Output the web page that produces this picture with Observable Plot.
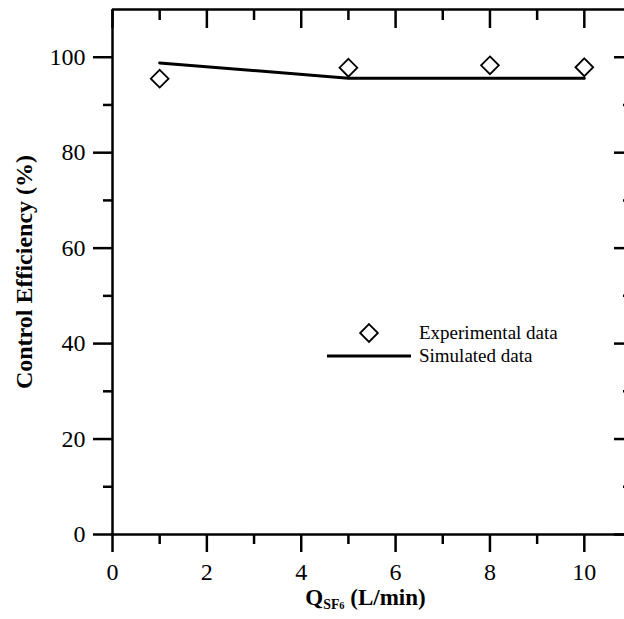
<!DOCTYPE html>
<html>
<head>
<meta charset="utf-8">
<script src="https://cdn.jsdelivr.net/npm/d3@7"></script>
<script src="https://cdn.jsdelivr.net/npm/@observablehq/plot@0.6"></script>
<style>
  html, body { margin: 0; padding: 0; background: #fff; overflow: hidden; }
  #wrap { position: relative; width: 624px; height: 619px; overflow: hidden; }
  #wrap svg text { font-family: "Liberation Serif", "Times New Roman", serif; font-variant: normal; }
  #xlabel { position: absolute; left: 106px; width: 519px; top: 586px; text-align: center;
    font: bold 23px "Liberation Serif", "Times New Roman", serif; line-height: 1; white-space: nowrap; }
  #xlabel sub { font-size: 0.6em; vertical-align: -0.28em; line-height: 0; }
  #xlabel sub sub { font-size: 0.75em; vertical-align: 0; }
  .leg { position: absolute; font: 19px "Liberation Serif", "Times New Roman", serif; line-height: 1; white-space: nowrap; }
</style>
</head>
<body>
<div id="wrap"></div>
<script>
// Data
const flowRates = [1, 5, 8, 10];                  // Q_SF6 (L/min)
const experimental = [95.5, 97.8, 98.3, 97.9];    // Control efficiency (%)
const simulated = [98.8, 95.6, 95.6, 95.6];       // Control efficiency (%)
const xMajorTicks = [0, 2, 4, 6, 8, 10];
const xMinorTicks = [1, 3, 5, 7, 9];
const yMajorTicks = [0, 20, 40, 60, 80, 100];
const yMinorTicks = [10, 30, 50, 70, 90];
const yLabel = "Control Efficiency (%)";
const legendLabels = ["Experimental data", "Simulated data"];

const expData = flowRates.map((x, i) => ({x, y: experimental[i]}));
const simData = flowRates.map((x, i) => ({x, y: simulated[i]}));

const font = '"Liberation Serif", "Times New Roman", serif';
const sw = 2.5;
const dotR = 8;

const chart = Plot.plot({
  width: 631,
  height: 619,
  marginLeft: 112,
  marginRight: 0,
  marginTop: 9,
  marginBottom: 85,
  style: {maxWidth: "none", fontFamily: font, fontSize: "24px", color: "#000", background: "#fff", overflow: "visible"},
  x: {domain: [0, 11]},
  y: {domain: [0, 110]},
  marks: [
    // frame lines
    Plot.ruleY([0, 110], {stroke: "#000", strokeWidth: sw}),
    Plot.ruleX([0, 11], {stroke: "#000", strokeWidth: sw}),
    // bottom axis
    Plot.axisX({anchor: "bottom", ticks: xMajorTicks, tickSize: 18, tickPadding: 10, tickFormat: d => String(d), strokeWidth: sw, label: null, fontSize: 24, fontFamily: font, fontVariant: "normal"}),
    Plot.axisX({anchor: "bottom", ticks: xMinorTicks, tickSize: 10, text: null, strokeWidth: sw, label: null}),
    // top axis (inward ticks)
    Plot.axisX({anchor: "top", ticks: xMajorTicks, tickSize: -18, text: null, strokeWidth: sw, label: null}),
    Plot.axisX({anchor: "top", ticks: xMinorTicks, tickSize: -10, text: null, strokeWidth: sw, label: null}),
    // left axis
    Plot.axisY({anchor: "left", ticks: yMajorTicks, tickSize: 19, tickPadding: 8, tickFormat: d => String(d), strokeWidth: sw, label: null, fontSize: 24, fontFamily: font, fontVariant: "normal"}),
    Plot.axisY({anchor: "left", ticks: yMinorTicks, tickSize: 9, text: null, strokeWidth: sw, label: null}),
    // right axis (inward ticks)
    Plot.axisY({anchor: "right", ticks: yMajorTicks, tickSize: -18, text: null, strokeWidth: sw, label: null}),
    Plot.axisY({anchor: "right", ticks: yMinorTicks, tickSize: -9, text: null, strokeWidth: sw, label: null}),
    // y label
    Plot.text([yLabel], {frameAnchor: "left", dx: -88, rotate: -90, textAnchor: "middle", lineAnchor: "middle", text: d => d, fontWeight: "bold", fontSize: 24, fontFamily: font, fill: "#000"}),
    // simulated line
    Plot.line(simData, {x: "x", y: "y", stroke: "#000", strokeWidth: 3}),
    // experimental points
    Plot.dot(expData, {x: "x", y: "y", symbol: "diamond2", r: dotR, stroke: "#000", strokeWidth: 1.8, fill: "#fff"})
  ]
});

const wrap = document.getElementById("wrap");
wrap.appendChild(chart);

// X axis title with subscripts
const xl = document.createElement("div");
xl.id = "xlabel";
xl.innerHTML = "Q<sub>SF<sub>6</sub></sub> (L/min)";
wrap.appendChild(xl);

// Legend
const ns = "http://www.w3.org/2000/svg";
function legSvg(left, top, w, h, inner) {
  const s = document.createElementNS(ns, "svg");
  s.setAttribute("width", w); s.setAttribute("height", h);
  s.style.position = "absolute"; s.style.left = left + "px"; s.style.top = top + "px";
  s.innerHTML = inner;
  wrap.appendChild(s);
}
const sym = d3.symbol(d3.symbolDiamond2, Math.PI * dotR * dotR)();
legSvg(357, 321, 24, 24, `<path d="${sym}" transform="translate(12,12)" fill="#fff" stroke="#000" stroke-width="1.8"/>`);
legSvg(327, 351, 84, 10, `<line x1="0" x2="84" y1="5" y2="5" stroke="#000" stroke-width="3"/>`);
legendLabels.forEach((t, i) => {
  const d = document.createElement("div");
  d.className = "leg";
  d.textContent = t;
  d.style.left = "419px";
  d.style.top = (i === 0 ? 323 : 346) + "px";
  wrap.appendChild(d);
});
</script>
</body>
</html>
